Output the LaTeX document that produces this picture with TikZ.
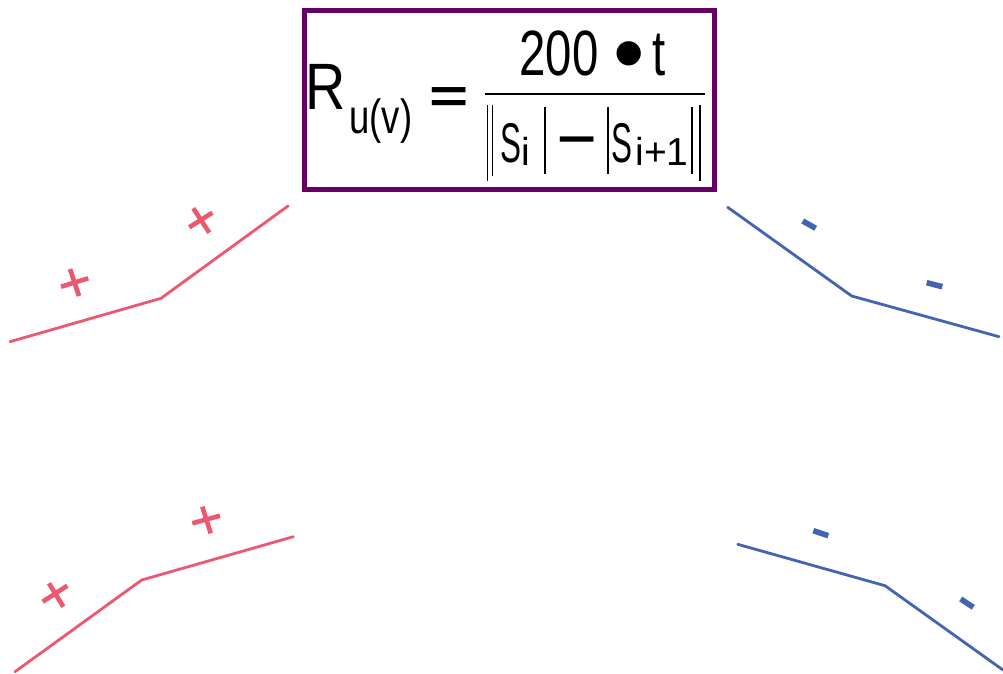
\documentclass[tikz,border=0pt]{standalone}
\usepackage{fontspec}
\setmainfont{Liberation Sans}
\newcommand{\fsz}[1]{\fontsize{#1}{#1}\selectfont}
\newcommand{\hsc}[2]{\scalebox{#1}[1]{#2}}
\definecolor{boxpurple}{RGB}{102,0,102}
\definecolor{penred}{RGB}{236,88,112}
\definecolor{penblue}{RGB}{66,100,178}
\begin{document}
\begin{tikzpicture}[x=1pt,y=-1pt,
  ftxt/.style={anchor=base west,inner sep=0pt,outer sep=0pt},
  absbar/.style={line width=1.3pt},
  redpen/.style={draw=penred,line width=2.8pt,line cap=round,line join=round},
  redmark/.style={draw=penred,line width=4.6pt},
  bluepen/.style={draw=penblue,line width=2.8pt,line cap=round,line join=round},
  bluemark/.style={draw=penblue,line width=5.6pt}]
\useasboundingbox (0,0) rectangle (1003,674);
% formula box
\draw[boxpurple,line width=5pt] (304.5,10.5) rectangle (714.5,189.5);
% left side
\node[ftxt,font=\fsz{65.6}] (R) at (305.4,110) {\hsc{0.85}{R}};
\node[ftxt,font=\fsz{48}] (sub) at (349.5,133) {\hsc{0.76}{u(v)}};
\node[ftxt,font=\fsz{48}\bfseries] (eq) at (429.6,113) {\hsc{1.4}{=}};
% numerator
\node[ftxt,font=\fsz{64}] (num) at (519.6,76) {\hsc{0.74}{200}};
\node[ftxt,font=\fsz{64}] (dot) at (613,84) {\scalebox{1.4}{•}};
\node[ftxt,font=\fsz{64}] (tt) at (652,76) {\hsc{0.74}{t}};
% fraction line
\draw[line width=1.4pt] (485,94) -- (705,94);
% denominator
\draw[absbar] (487.5,105) -- (487.5,181);
\draw[absbar] (492.5,105) -- (492.5,176);
\node[ftxt,font=\fsz{56}] (s1) at (500.5,162) {\hsc{0.56}{S}};
\node[ftxt,font=\fsz{39}] (i1) at (521,165) {i};
\draw[absbar] (545,107) -- (545,174);
\node[ftxt,font=\fsz{48}\bfseries] (minus) at (557,155) {\hsc{1.4}{−}};
\draw[absbar] (608,107) -- (608,174);
\node[ftxt,font=\fsz{56}] (s2) at (611.5,162) {\hsc{0.56}{S}};
\node[ftxt,font=\fsz{39}] (i2) at (635.5,165) {i+1};
\draw[absbar] (692,107) -- (692,174);
\draw[absbar] (700,105) -- (700,181);
% top-left red sketch
\draw[redpen] (10,341.7) -- (161,298.3) -- (288,206);
\draw[redmark] (61,286.7) -- (88.3,278.3) (70,269) -- (79,296);
\draw[redmark] (189.3,227.3) -- (212.3,212.7) (193.3,208.3) -- (209.3,232.7);
% bottom-left red sketch
\draw[redpen] (15,671.7) -- (141.7,580) -- (293.3,536.7);
\draw[redmark] (42.7,601.7) -- (67.3,585.7) (49,583.3) -- (63.3,606.7);
\draw[redmark] (192.3,523.3) -- (220,515.7) (202.3,506.7) -- (210.7,533.3);
% top-right blue sketch
\draw[bluepen] (727.7,207.3) -- (851.7,296) -- (999,336.7);
\draw[bluemark] (802.7,221) -- (815.7,228.3);
\draw[bluemark] (926.7,282.7) -- (942.3,286.7);
% bottom-right blue sketch
\draw[bluepen] (737.7,544.3) -- (885,585.7) -- (1003,670);
\draw[bluemark] (813.3,530.7) -- (828.3,535.7);
\draw[bluemark] (960.7,599) -- (973.3,607.3);
\end{tikzpicture}
\end{document}
